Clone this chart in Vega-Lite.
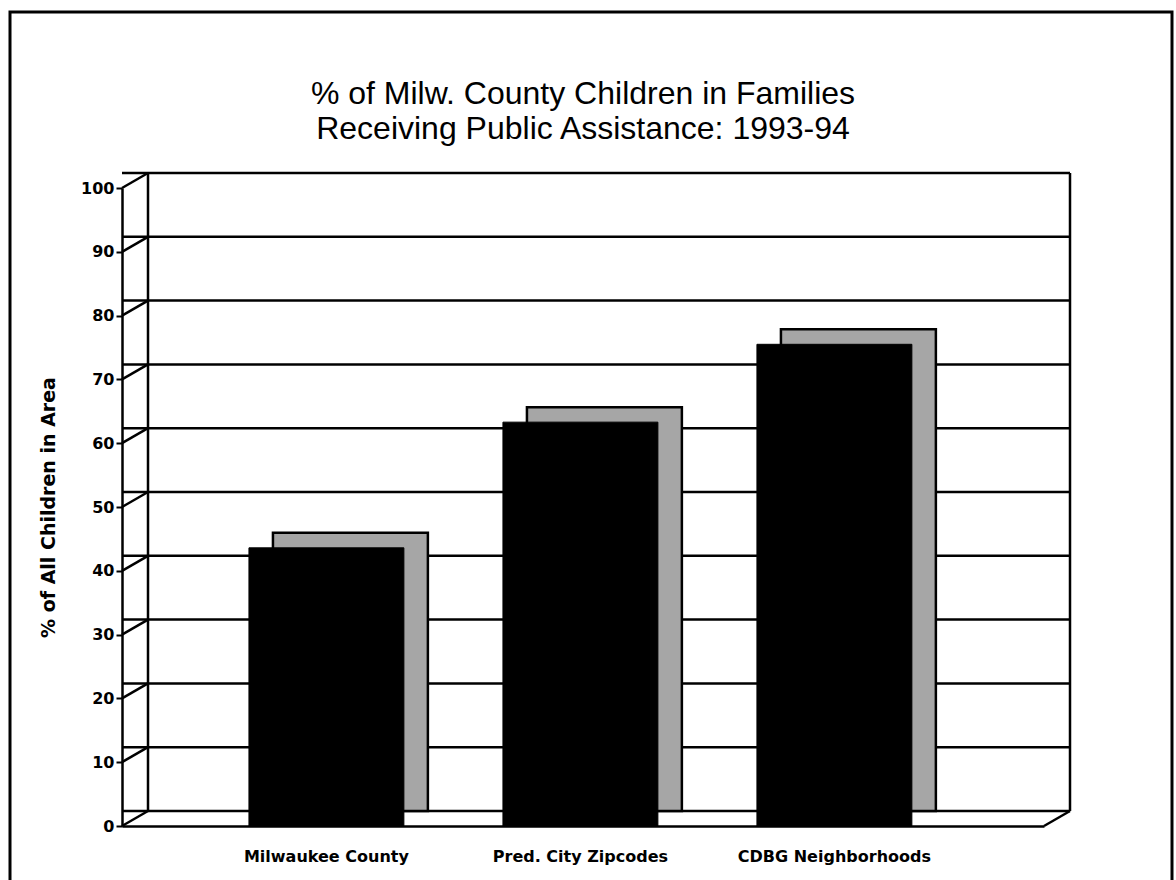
{
  "$schema": "https://vega.github.io/schema/vega-lite/v6.json",
  "autosize": {"type": "none"},
  "width": 922,
  "height": 638,
  "padding": {"left": 122, "top": 188, "right": 132, "bottom": 54},
  "background": "white",
  "config": {"view": {"stroke": null}, "font": "Liberation Sans"},
  "title": {
    "text": ["% of Milw. County Children in Families", "Receiving Public Assistance: 1993-94"],
    "fontSize": 32,
    "fontWeight": "normal",
    "font": "Liberation Sans",
    "color": "black",
    "anchor": "middle",
    "frame": "group",
    "lineHeight": 35,
    "offset": -135
  },
  "datasets": {
    "bars": [
      {"area": "Milwaukee County", "pct": 43.6},
      {"area": "Pred. City Zipcodes", "pct": 63.3},
      {"area": "CDBG Neighborhoods", "pct": 75.5}
    ],
    "grid": [
      {"v": 0}, {"v": 10}, {"v": 20}, {"v": 30}, {"v": 40}, {"v": 50},
      {"v": 60}, {"v": 70}, {"v": 80}, {"v": 90}, {"v": 100}
    ]
  },
  "layer": [
    {
      "data": {"values": [{}]},
      "mark": {"type": "rect", "fill": null, "stroke": "black", "strokeWidth": 3},
      "encoding": {
        "x": {"value": -112},
        "x2": {"value": 1050},
        "y": {"value": -176},
        "y2": {"value": 720}
      }
    },
    {
      "data": {"name": "grid"},
      "mark": {"type": "rule", "color": "black", "strokeWidth": 2.5, "xOffset": 26, "x2Offset": 26, "yOffset": -15, "y2Offset": -15},
      "encoding": {
        "y": {"field": "v", "type": "quantitative", "scale": {"domain": [0, 100]}, "axis": {
          "values": [0, 10, 20, 30, 40, 50, 60, 70, 80, 90, 100],
          "grid": false,
          "domainColor": "black", "domainWidth": 2.5,
          "tickColor": "black", "tickWidth": 2, "tickSize": 6,
          "labelFont": "DejaVu Sans", "labelFontSize": 16, "labelFontWeight": "bold", "labelColor": "black", "labelPadding": 2,
          "title": "% of All Children in Area",
          "titleFont": "DejaVu Sans", "titleFontSize": 19, "titleFontWeight": "bold", "titleColor": "black", "titlePadding": 22
        }}
      }
    },
    {
      "data": {"name": "grid"},
      "mark": {"type": "rule", "color": "black", "strokeWidth": 2.5, "y2Offset": -15},
      "encoding": {
        "y": {"field": "v", "type": "quantitative"},
        "y2": {"field": "v"},
        "x": {"value": 0},
        "x2": {"value": 26}
      }
    },
    {
      "data": {"values": [{}]},
      "mark": {"type": "rule", "color": "black", "strokeWidth": 2.5, "yOffset": -15, "y2Offset": -15},
      "encoding": {
        "x": {"value": 26},
        "y": {"datum": 0, "type": "quantitative"},
        "y2": {"datum": 100}
      }
    },
    {
      "data": {"values": [{}]},
      "mark": {"type": "rule", "color": "black", "strokeWidth": 2.5, "yOffset": -15, "y2Offset": -15},
      "encoding": {
        "x": {"value": 948},
        "y": {"datum": 0, "type": "quantitative"},
        "y2": {"datum": 100}
      }
    },
    {
      "data": {"values": [{}]},
      "mark": {"type": "rule", "color": "black", "strokeWidth": 2.5, "y2Offset": -15},
      "encoding": {
        "x": {"value": 922},
        "x2": {"value": 948},
        "y": {"datum": 0, "type": "quantitative"},
        "y2": {"datum": 0}
      }
    },
    {
      "data": {"name": "bars"},
      "mark": {"type": "bar", "fill": "#a6a6a6", "stroke": "black", "strokeWidth": 2.5, "xOffset": 24, "x2Offset": 24, "yOffset": -15, "y2Offset": -15},
      "encoding": {
        "x": {"field": "area", "type": "nominal", "sort": null,
          "scale": {"paddingInner": 0.39, "paddingOuter": 0.51, "align": 0.49},
          "axis": {
            "title": null, "ticks": false, "labelAngle": 0, "labelLimit": 400,
            "domainColor": "black", "domainWidth": 2.5,
            "labelFont": "DejaVu Sans", "labelFontSize": 16, "labelFontWeight": "bold", "labelColor": "black", "labelPadding": 22
          }},
        "y": {"field": "pct", "type": "quantitative"}
      }
    },
    {
      "data": {"name": "bars"},
      "mark": {"type": "bar", "fill": "black", "stroke": "black", "strokeWidth": 1},
      "encoding": {
        "x": {"field": "area", "type": "nominal", "sort": null},
        "y": {"field": "pct", "type": "quantitative"}
      }
    }
  ]
}
